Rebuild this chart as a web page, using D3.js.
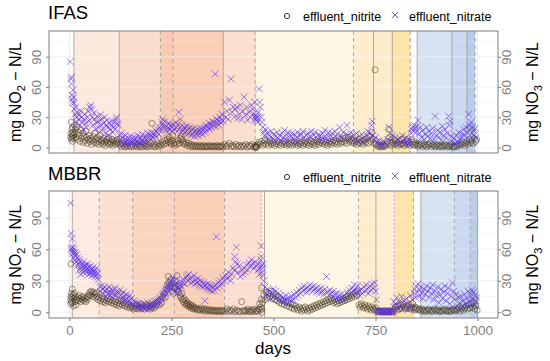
<!DOCTYPE html>
<html><head><meta charset="utf-8">
<script src="https://cdn.jsdelivr.net/npm/d3@7"></script>
<style>body{margin:0;background:#fff} text{font-family:Arial,"Liberation Sans",sans-serif}</style>
</head><body><svg id="chart" width="550" height="361"></svg>
<script>
// ---- data (day, mg/L) ----
var ifasNitrate = [[2,85],[4,68],[5,70],[5,63],[6,52],[7,48],[8,45],[9,57],[10,50],[11,44],[12,38],[14,33],[15,40],[17,30],[18,25],[20,35],[22,28],[24,32],[26,22],[28,36],[30,30],[32,25],[34,18],[36,28],[38,33],[40,24],[42,20],[44,30],[46,36],[48,26],[50,40],[52,42],[54,38],[56,30],[58,22],[60,34],[62,28],[64,18],[66,25],[68,31],[70,20],[72,26],[74,15],[76,32],[78,22],[80,28],[82,18],[84,24],[86,30],[88,14],[90,22],[92,27],[94,20],[96,12],[98,24],[100,18],[102,26],[104,22],[106,15],[108,20],[110,25],[112,18],[114,28],[116,30],[118,24],[120,22],
  [123,12],[125,8],[127,14],[129,6],[131,10],[133,4],[135,8],[137,12],[139,5],[141,7],[143,3],[145,9],[147,6],[149,11],[151,4],[153,8],[155,5],[157,10],[159,7],[161,3],[163,9],[165,6],[167,12],[169,5],[171,8],[173,4],[175,10],[177,7],[179,13],[181,6],[183,9],[185,5],[187,11],[189,8],[191,14],[193,6],[195,10],[197,13],[199,8],[201,15],[203,11],[205,9],[207,14],[209,12],[211,17],[213,10],[215,15],[217,18],[219,13],[221,20],
  [224,18],[226,25],[228,28],[230,22],[232,20],[234,26],[236,17],[238,21],[240,15],[242,19],[244,24],[246,18],[248,22],[250,20],[252,16],
  [255,22],[258,18],[260,25],[262,20],[264,16],[266,23],[268,35],[270,19],[272,28],[274,15],[276,22],[278,17],[280,20],[282,14],[284,19],[286,16],[288,21],[290,13],[292,18],[294,15],[296,20],[298,12],[300,17],[302,14],[304,19],[306,11],[308,16],[310,13],[312,18],[314,15],[316,12],[318,17],[320,14],[322,19],[324,16],[326,13],[328,18],[330,20],[332,15],[334,22],[336,17],[338,21],[340,19],[342,24],[344,18],[346,23],[348,20],[350,26],[352,22],[354,25],[357,73],[358,21],[360,28],[362,24],[364,27],[366,22],[368,30],[370,25],[372,28],[374,33],[376,26],
  [380,45],[383,30],[386,36],[389,28],[392,47],[396,68],[398,35],[401,40],[404,30],[407,38],[410,40],[413,29],[416,33],[419,42],[422,28],[425,36],[428,50],[431,32],[434,40],[437,27],[440,35],[443,30],[446,42],[449,38],[452,33],[454,45],[455,30],[456,28],[457,32],[458,29],[459,27],[460,30],[461,25],[463,35],[465,58],[466,45],[468,40],[470,30],[472,25],[474,20],[476,15],[478,12],[480,18],[482,10],
  [485,14],[488,8],[491,12],[494,16],[497,9],[500,13],[503,7],[506,11],[509,15],[512,9],[515,12],[518,6],[521,14],[524,10],[527,17],[530,8],[533,12],[536,15],[539,7],[542,11],[545,14],[548,9],[551,13],[554,6],[557,10],[560,15],[563,12],[566,8],[569,13],[572,16],[575,10],[578,7],[581,12],[584,14],[587,9],[590,11],[593,16],[596,8],[599,12],[602,15],[605,10],[608,7],[611,13],[614,11],[617,8],[620,14],[623,10],[626,17],[629,9],[632,12],[635,15],[638,7],[641,11],[644,14],[647,9],[650,16],[653,11],[656,13],[659,8],[662,20],[665,12],[668,10],[671,15],[674,8],[677,13],[680,22],[683,12],[686,9],[689,15],[692,11],[695,7],[698,12],
  [701,9],[704,14],[707,6],[710,11],[713,8],[716,13],[719,5],[722,10],[725,7],[728,12],[731,16],[734,9],[737,14],[740,22],[742,26],[744,12],[747,8],[750,10],[753,5],[756,3],[759,7],[762,4],[765,2],[768,6],[771,3],[774,5],[777,2],[780,8],[783,20],[786,14],[789,9],[792,12],[795,5],[798,10],[801,4],[804,7],[807,3],[810,9],[813,5],[816,12],[819,8],[822,4],[825,10],[828,6],[831,3],[834,8],
  [837,14],[839,18],[841,20],[843,16],[845,22],[847,19],[849,15],[851,21],[854,27],[857,14],[860,20],[863,10],[866,17],[869,8],[872,13],[875,20],[878,11],[881,16],[884,9],[887,14],[890,19],[893,8],[896,31],[899,12],[902,17],[905,10],[908,15],[911,7],[914,21],[917,12],[920,18],[923,9],[926,14],[929,31],[931,22],[933,26],[936,11],[939,5],[942,9],[945,4],[948,12],[951,6],[954,15],[957,8],[960,10],[963,13],[966,18],[969,12],[972,20],[975,15],[978,33],[980,22],[982,18],[984,25],[986,14],[988,20],[990,17],[992,12],[994,19],[996,10]];

var ifasNitrite = [[3,10],[4,14],[5,25],[5,8],[6,12],[6,18],[7,10],[8,20],[8,6],[9,15],[10,12],[11,9],[12,22],[13,14],[14,18],[16,10],[18,20],[20,8],[22,15],[24,12],[26,6],[28,17],[30,9],[32,14],[34,5],[36,11],[38,7],[40,16],[42,10],[44,4],[46,8],[48,12],[50,6],[52,9],[54,3],[56,7],[58,11],[60,5],[62,14],[64,8],[66,4],[68,10],[70,6],[72,3],[74,8],[76,12],[78,5],[80,7],[82,3],[84,9],[86,5],[88,2],[90,6],[92,8],[94,4],[96,10],[98,3],[100,6],[102,4],[104,8],[106,2],[108,5],[110,7],[112,3],[114,6],[116,4],[118,8],[120,5],
  [124,3],[127,1],[130,4],[133,2],[136,0.5],[139,3],[142,1],[145,5],[148,2],[151,0.5],[154,3],[157,1],[160,4],[163,2],[166,0.5],[169,3],[172,1],[175,2],[178,0.5],[181,4],[184,2],[187,1],[190,3],[193,0.5],[196,2],[199,4],[202,24],[204,1],[207,3],[210,0.5],[213,2],[216,4],[219,1],[222,3],
  [225,2],[228,5],[231,3],[234,7],[237,4],[240,8],[243,6],[245,10],[247,5],[249,3],[251,7],[253,12],[255,4],[257,2],[260,5],[263,3],[266,7],[269,4],[272,9],[274,11],[276,8],[278,6],[280,4],[283,3],[286,5],[289,2],[292,4],[295,1],[298,3],[301,1],[304,2],[307,0.5],[310,2],[313,1],[316,0.5],[319,2],[322,1],[325,0.5],[328,2],[331,1],[334,0.5],[337,1.5],[340,0.5],[343,2],[346,1],[349,0.5],[352,1.5],[355,1],[358,0.5],[361,2],[364,1],[367,0.5],[370,1],[373,2],[376,0.5],
  [380,3],[384,1],[388,2],[392,4],[396,1],[400,2],[404,0.5],[408,3],[412,1],[416,2],[420,0.5],[424,2],[428,1],[432,3],[436,0.5],[440,2],[444,1],[448,3],[452,0.5],[455,2],[456,0],[457,1],[458,0],[459,1],[461,3],
  [464,5],[467,3],[470,6],[473,2],[476,4],[479,7],[482,3],[485,5],[488,2],[491,6],[494,4],[497,3],[500,5],[503,2],[506,4],[509,6],[512,3],[515,5],[518,2],[521,4],[524,6],[527,3],[530,5],[533,2],[536,4],[539,3],[542,5],[545,2],[548,4],[551,6],[554,3],[557,5],[560,2],[563,4],[566,3],[569,5],[572,2],[575,4],[578,6],[581,3],[584,5],[587,2],[590,4],[593,6],[596,3],[599,5],[602,2],[605,4],[608,6],[611,3],[614,5],[617,7],[620,4],[623,6],[626,3],[629,5],[632,2],[635,4],[638,6],[641,3],[644,5],[647,7],[650,4],[653,6],[656,3],[659,5],[662,8],[665,4],[668,6],[671,9],[674,5],[677,7],[680,4],[683,10],[686,6],[689,8],[692,5],[695,7],[698,4],
  [702,6],[705,3],[708,5],[711,8],[714,4],[717,6],[720,3],[723,7],[726,5],[729,9],[732,4],[735,11],[738,6],[741,15],[744,8],[747,4],[749,77],[752,3],[755,1],[758,2],[761,0.5],[764,1.5],[767,0.5],[770,2],[773,1],[776,3],[779,6],[782,18],[784,10],[787,4],[790,2],[793,5],[796,3],[799,7],[802,4],[805,2],[808,6],[811,3],[814,8],[817,4],[820,2],[823,5],[826,3],[829,6],[832,4],[835,2],
  [838,8],[840,5],[842,3],[844,6],[846,2],[848,4],[851,3],[854,1],[857,3],[860,2],[863,4],[866,1],[869,3],[872,2],[875,0.5],[878,3],[881,2],[884,4],[887,1],[890,3],[893,2],[896,0.5],[899,2],[902,3],[905,1],[908,2],[911,0.5],[914,2],[917,1],[920,3],[923,2],[926,0.5],[929,2],[932,1],[935,3],[938,0.5],[941,1],[944,0.5],[947,2],[950,1],[953,3],[956,2],[959,4],[962,3],[965,5],[968,2],[971,4],[974,6],[977,3],[980,8],[983,5],[986,7],[989,4],[992,9],[995,6],[998,8]];

var mbbrNitrate = [[3,104],[4,75],[5,60],[5,61],[6,58],[7,70],[8,62],[9,56],[10,57],[11,52],[12,60],[13,54],[14,50],[15,57],[16,48],[18,55],[19,44],[20,52],[22,46],[23,50],[24,40],[26,48],[27,43],[28,36],[30,46],[31,40],[32,44],[34,38],[35,48],[36,42],[38,45],[39,40],[40,44],[42,38],[43,42],[44,46],[46,40],[47,36],[48,43],[50,39],[51,44],[52,37],[54,41],[55,35],[56,40],[58,38],[59,43],[60,36],[62,40],[63,34],[64,38],[66,36],[67,42],[68,33],[70,37],[71,31],
  [74,24],[76,20],[78,25],[80,18],[82,22],[84,17],[86,24],[88,20],[90,15],[92,22],[94,18],[96,24],[98,19],[100,16],[102,22],[104,18],[106,14],[108,21],[110,17],[112,23],[114,16],[116,20],[118,13],[120,18],[122,15],[124,21],[126,12],[128,17],[130,14],[132,19],[134,11],[136,15],[138,12],[140,17],[142,10],[144,14],[146,11],[148,16],[150,9],[152,13],
  [155,8],[158,11],[160,6],[162,9],[165,5],[168,8],[170,4],[172,7],[175,3],[178,6],[180,4],[182,8],[185,3],[188,6],[190,5],[192,9],[195,4],[198,7],[200,5],[202,9],[205,6],[208,10],[210,7],[212,11],[215,8],[218,12],[220,10],[222,14],[225,12],[228,16],[230,18],[232,15],[234,20],[236,22],[238,18],[240,25],[242,21],[244,27],[246,24],[248,30],[250,22],[252,28],[254,33],[256,25],[258,30],[260,20],[262,27],[264,18],[266,24],[268,22],[270,29],[272,26],
  [275,24],[278,28],[280,31],[283,27],[286,33],[288,35],[290,30],[292,36],[295,32],[298,28],[300,33],[303,29],[305,35],[308,27],[310,31],[313,28],[315,32],[318,26],[320,30],[323,25],[325,29],[328,24],[330,28],[332,11],[333,26],[336,23],[338,27],[340,22],[343,26],[345,21],[348,25],[350,20],[353,24],[355,21],[358,26],[360,72],[362,23],[365,28],[368,25],[370,30],[373,27],[376,33],[379,30],
  [383,35],[386,32],[389,38],[392,34],[395,30],[398,36],[401,42],[404,40],[405,53],[407,48],[409,62],[411,46],[413,38],[416,44],[419,34],[422,40],[425,36],[428,42],[431,38],[434,45],[437,40],[440,47],[443,44],[446,50],[449,46],[452,42],[455,48],[458,44],[461,40],[463,46],[465,36],[467,42],[469,50],[470,63],[470,53],[471,45],[472,38],[473,42],[474,35],[475,46],[476,30],
  [479,24],[482,18],[485,22],[488,15],[491,20],[494,13],[497,18],[500,22],[503,16],[506,20],[509,14],[512,18],[515,12],[518,16],[521,10],[524,14],[527,11],[530,16],[533,13],[536,9],[539,14],[542,11],[545,15],[548,12],[551,17],[554,14],[557,19],[560,16],[563,21],[566,18],[569,23],[572,20],[575,25],[578,22],[581,19],[584,24],[587,21],[590,26],[593,23],[596,20],[599,25],[602,22],[605,19],[608,24],[611,21],[614,18],[617,23],[620,20],[623,17],[626,22],[630,34],[632,19],[635,16],[638,21],[641,18],[644,15],[647,20],[650,17],[653,13],[656,18],[659,15],[662,12],[665,17],[668,14],[671,11],[674,16],[677,13],[680,19],[683,16],[686,21],[689,18],[692,23],[695,20],[698,26],[701,22],[704,19],[706,25],
  [709,20],[712,16],[715,22],[718,18],[721,24],[724,20],[727,26],[730,22],[733,18],[736,25],[739,21],[742,27],[745,23],[748,28],[750,20],[752,12],[755,1],[757,0],[759,1],[761,0],[763,1],[765,0],[767,1],[769,0],[771,1],[773,0],[775,1],[777,0],[779,1],[781,0],[783,1],[785,0],[787,1],[789,0],[791,1],[793,0],[795,10],[796,5],[799,8],[802,14],[805,3],[808,10],[811,6],[814,15],[817,4],[820,11],[823,7],[826,13],[829,3],[832,9],[835,16],[838,5],[841,12],
  [844,18],[846,22],[848,14],[850,25],[852,19],[854,27],[856,15],[858,21],[860,24],[863,18],[866,13],[869,22],[872,17],[875,25],[878,20],[881,14],[884,23],[887,18],[890,26],[893,12],[896,20],[899,16],[902,24],[905,9],[908,17],[911,22],[914,13],[917,19],[920,25],[923,11],[926,18],[929,23],[932,8],[935,15],[938,28],[941,20],[944,12],[947,17],[950,6],[953,14],[956,9],[959,15],[962,5],[965,11],[968,17],[971,8],[974,13],[977,20],[980,10],[982,18],[984,15],[986,21],[988,12],[990,19],[992,8],[994,16],[996,11],[998,14]];

var mbbrNitrite = [[3,12],[3,8],[4,46],[4,15],[5,10],[5,18],[6,14],[7,22],[8,9],[9,16],[10,6],[11,13],[12,18],[14,10],[15,15],[16,7],[18,12],[20,14],[22,11],[24,16],[26,13],[28,10],[30,14],[32,12],[34,15],[36,11],[38,13],[40,10],[42,14],[44,12],[46,15],[48,17],[50,19],[52,16],[54,20],[56,18],[58,15],[60,19],[62,17],[64,14],[66,18],[68,15],[70,12],
  [73,14],[76,11],[79,13],[82,10],[85,12],[88,9],[91,11],[94,13],[97,10],[100,12],[103,9],[106,11],[109,8],[112,10],[115,7],[118,9],[121,6],[124,8],[127,11],[130,7],[133,9],[136,6],[139,8],[142,5],[145,7],[148,4],[151,6],
  [154,5],[157,3],[160,6],[163,4],[166,7],[169,3],[172,5],[175,8],[178,4],[181,6],[184,3],[187,5],[190,7],[193,4],[196,6],[199,3],[202,5],[205,7],[208,4],[211,6],[214,8],[217,10],[220,7],[223,12],[226,9],[229,15],[232,18],[235,14],[238,22],[240,26],[242,34],[244,28],[246,24],[248,31],[250,20],[252,27],[254,18],[256,23],[258,30],[260,25],[263,35],[265,22],[267,19],[269,25],[271,16],[273,14],[275,18],[277,12],[279,10],[281,13],[283,8],[285,11],[287,7],[289,9],[291,6],[293,8],[295,5],[297,7],[299,4],[301,6],[303,3],[305,5],[308,3],[311,4],[314,2],[317,3],[320,2],[323,4],[326,2],[329,3],[332,1],[335,3],[338,2],[341,1],[344,2.5],[347,1],[350,2],[353,1],[356,2],[359,0.5],[362,2],[365,1],[368,1.5],[371,0.5],[374,2],[377,1],
  [382,1],[386,3],[390,0.5],[394,2],[398,1],[402,3],[406,0.5],[410,2],[414,1],[418,0.5],[422,10],[425,1],[428,2],[431,0.5],[434,1.5],[437,3],[440,1],[443,0.5],[446,2],[449,1],[452,3],[455,0.5],[458,2],[461,1],[464,3],[466,8],[468,2],[469,5],[470,12],[471,23],[471,0],[472,3],[473,9],
  [476,16],[479,12],[482,19],[485,14],[488,18],[491,15],[494,20],[497,13],[500,17],[503,12],[506,15],[509,11],[512,14],[515,9],[518,12],[521,8],[524,11],[527,7],[530,10],[533,6],[536,9],[539,5],[542,8],[545,4],[548,7],[551,3],[554,6],[557,4],[560,2],[563,5],[566,3],[569,1],[572,4],[575,2],[578,5],[581,3],[584,1],[587,4],[590,2],[593,5],[596,3],[599,6],[602,4],[605,7],[608,5],[611,8],[614,6],[617,9],[620,7],[623,10],[626,8],[629,11],[632,9],[635,12],[638,10],[641,13],[644,11],[647,9],[650,12],[653,10],[656,8],[659,11],[662,9],[665,12],[668,10],[671,13],[674,11],[677,14],[680,12],[683,15],[686,13],[689,16],[692,14],[695,17],[698,15],[701,18],[704,16],[706,20],
  [709,7],[712,5],[715,8],[718,6],[721,4],[724,7],[727,5],[730,3],[733,6],[736,4],[739,2],[742,5],[745,3],[748,2],[751,4],[754,1],[757,0.5],[760,1.5],[763,0.5],[766,1],[769,0.5],[772,1.5],[775,0.5],[778,1],[781,0.5],[784,1.5],[787,0.5],[790,1],[793,0.5],[796,3],[799,5],[802,2],[805,6],[808,3],[811,7],[814,4],[817,8],[820,5],[823,3],[826,6],[829,4],[832,7],[835,3],[838,5],[841,8],[843,4],[845,2],[847,5],[849,3],
  [852,4],[855,2],[858,3],[861,1],[864,3],[867,2],[870,0.5],[873,2],[876,1],[879,3],[882,2],[885,0.5],[888,2],[891,1],[894,3],[897,2],[900,1],[903,2.5],[906,1],[909,0.5],[912,2],[915,1],[918,3],[921,2],[924,1],[927,2],[930,0.5],[933,2],[936,1],[939,3],[942,2],[945,1],[948,3],[951,2],[954,4],[957,1],[960,3],[963,5],[966,2],[969,4],[972,6],[975,3],[978,7],[981,4],[984,8],[987,5],[990,9],[993,3],[996,6],[999,2]];

// operating phases (start day, end day)
var ifasPhases = [[11,122],[122,223],[223,254],[254,377],[377,457],[457,696],[696,745],[745,791],[791,835],[852,937],[937,974],[974,994]];
var mbbrPhases = [[7,73],[73,155],[155,257],[257,380],[380,471],[471,708],[708,751],[751,798],[798,843],[861,943],[943,982],[982,1000]];
var ifasPhaseFill = ["#fde8dc","#fad9c8","#f7c8ae","#f8cbb1","#fbdccb","#fef5e3","#fdecca","#fdeac5","#fde2a3","#d4e0f1","#c6d6ee","#b3c8e7"];
var mbbrPhaseFill = ["#fde9de","#fbdccc","#f9d0ba","#f8cbb2","#fcdccd","#fef5e3","#fdebc8","#fdedce","#fde2a3","#d4e0f1","#c6d6ee","#b3c8e7"];

// phase boundary markers (day) and their line type
var ifasMarks = [11,122,223,254,377,455,696,745,791,835,852,937,974,994];
var ifasMarkType = ["solid","solid","dashed","dashed","solid","dashed","dashed","solid","solid","dashed","solid","solid","solid","dashed"];
var mbbrMarks = [7,73,155,257,380,470,478,708,751,796,843,861,943,982,1000];
var mbbrMarkType = ["solid","dashed","dashed","dashed","dashed","dotted","solid","dashed","solid","dotted","dashed","solid","dashed","dashed","solid"];

var xTicks = [0,250,500,750,1000];
var yTicks = [0,30,60,90];
var seriesNames = ["effluent_nitrite","effluent_nitrate"];

// ---- drawing ----
var svg = d3.select("#chart");
var x = d3.scaleLinear().domain([-50,1050]).range([49,498]);

var panels = [
  {name:"IFAS", top:31, bottom:153, nitrite:ifasNitrite, nitrate:ifasNitrate, phases:ifasPhases, fills:ifasPhaseFill, marks:ifasMarks, types:ifasMarkType, titleY:19, legendY:16, showX:false},
  {name:"MBBR", top:191, bottom:318, nitrite:mbbrNitrite, nitrate:mbbrNitrate, phases:mbbrPhases, fills:mbbrPhaseFill, marks:mbbrMarks, types:mbbrMarkType, titleY:180, legendY:177, showX:true}
];

var nitriteCol = "#3d3018", nitrateCol = "#5a2ee6";
var font = "Arial, 'Liberation Sans', sans-serif";

panels.forEach(function(p, pi){
  var y = d3.scaleLinear().domain([-5.5,115.5]).range([p.bottom, p.top]);
  var g = svg.append("g");
  var clipId = "clip" + pi;
  svg.append("clipPath").attr("id", clipId).append("rect")
    .attr("x", 49).attr("y", p.top).attr("width", 449).attr("height", p.bottom - p.top);

  g.append("rect").attr("x",49).attr("y",p.top).attr("width",449).attr("height",p.bottom-p.top).attr("fill","#fff");

  // grid
  var gridY = d3.range(0,106,15), gridX = d3.range(0,1001,125);
  g.selectAll(".gy").data(gridY).enter().append("line")
    .attr("x1",49).attr("x2",498).attr("y1",function(d){return y(d);}).attr("y2",function(d){return y(d);})
    .attr("stroke","#ebebeb").attr("stroke-width", function(d){ return d%30==0 ? 1 : 0.5; });
  g.selectAll(".gx").data(gridX).enter().append("line")
    .attr("y1",p.top).attr("y2",p.bottom).attr("x1",function(d){return x(d);}).attr("x2",function(d){return x(d);})
    .attr("stroke","#ebebeb").attr("stroke-width", function(d){ return d%250==0 ? 1 : 0.5; });

  // shaded phases
  g.append("g").selectAll("rect").data(p.phases).enter().append("rect")
    .attr("x", function(d){ return x(d[0]); })
    .attr("width", function(d){ return x(d[1]) - x(d[0]); })
    .attr("y", p.top).attr("height", p.bottom - p.top)
    .attr("fill", function(d,i){ return p.fills[i]; })
    .attr("opacity", 0.92);

  // faint grid over shading
  g.selectAll(".gy2").data(gridY).enter().append("line")
    .attr("x1",49).attr("x2",498).attr("y1",function(d){return y(d);}).attr("y2",function(d){return y(d);})
    .attr("stroke","#fff").attr("stroke-opacity",0.45).attr("stroke-width", function(d){ return d%30==0 ? 1 : 0.5; });

  // phase boundary lines
  g.append("g").selectAll("line").data(p.marks).enter().append("line")
    .attr("x1", function(d){ return x(d); }).attr("x2", function(d){ return x(d); })
    .attr("y1", p.top).attr("y2", p.bottom)
    .attr("stroke", function(d,i){ return p.types[i]=="dotted" ? "#d68ad6" : "#a89f99"; })
    .attr("stroke-width", 0.9)
    .attr("stroke-dasharray", function(d,i){ return p.types[i]=="dashed" ? "4,3" : (p.types[i]=="dotted" ? "2,2" : null); });

  var pts = g.append("g").attr("clip-path","url(#"+clipId+")");
  // nitrite: open circles
  pts.selectAll("circle").data(p.nitrite).enter().append("circle")
    .attr("cx", function(d){ return x(d[0]); })
    .attr("cy", function(d){ return y(d[1]); })
    .attr("r", 3)
    .attr("fill","none").attr("stroke", nitriteCol).attr("stroke-opacity",0.55).attr("stroke-width",0.9);
  // nitrate: crosses
  pts.selectAll("path").data(p.nitrate).enter().append("path")
    .attr("transform", function(d){ return "translate(" + x(d[0]) + "," + y(d[1]) + ")"; })
    .attr("d", "M-3.4,-3.4L3.4,3.4M-3.4,3.4L3.4,-3.4")
    .attr("stroke", nitrateCol).attr("stroke-opacity",0.6).attr("stroke-width",1);

  // border
  g.append("rect").attr("x",49).attr("y",p.top).attr("width",449).attr("height",p.bottom-p.top)
    .attr("fill","none").attr("stroke","#7f7f7f").attr("stroke-width",1);

  // y axes
  var left = g.append("g").attr("transform","translate(49,0)")
    .call(d3.axisLeft(y).tickValues(yTicks).tickSize(3).tickPadding(3));
  var right = g.append("g").attr("transform","translate(498,0)")
    .call(d3.axisRight(y).tickValues(yTicks).tickSize(3).tickPadding(3));
  [left, right].forEach(function(a){
    a.select(".domain").remove();
    a.selectAll(".tick line").attr("stroke","#7f7f7f");
    a.selectAll(".tick text").attr("fill","#7f7f7f").attr("font-size",13.5).attr("font-family",font);
  });
  left.selectAll(".tick text").attr("text-anchor","middle").attr("x",0).attr("dy",null)
    .attr("transform","translate(-8,0) rotate(-90)");
  right.selectAll(".tick text").attr("text-anchor","middle").attr("x",0).attr("dy",null)
    .attr("transform","translate(13,0) rotate(-90)");

  // axis titles
  var cy = (p.top + p.bottom) / 2;
  var lt = g.append("text").attr("transform","translate(21," + cy + ") rotate(-90)")
    .attr("text-anchor","middle").attr("font-size",16).attr("fill","#000");
  lt.append("tspan").text("mg NO");
  lt.append("tspan").attr("font-size",11).attr("dy",4).text("2");
  lt.append("tspan").attr("dy",-4).text(" \u2212 N/L");
  var rt = g.append("text").attr("transform","translate(538," + cy + ") rotate(-90)")
    .attr("text-anchor","middle").attr("font-size",16).attr("fill","#000");
  rt.append("tspan").text("mg NO");
  rt.append("tspan").attr("font-size",11).attr("dy",4).text("3");
  rt.append("tspan").attr("dy",-4).text(" \u2212 N/L");

  // panel title
  g.append("text").attr("x",48).attr("y",p.titleY).attr("font-size",18.5).attr("fill","#000").text(p.name);

  // legend
  var lg = g.append("g").attr("transform","translate(0," + p.legendY + ")");
  lg.append("circle").attr("cx",287).attr("cy",0).attr("r",2.6)
    .attr("fill","none").attr("stroke","#333").attr("stroke-width",1);
  lg.append("text").attr("x",303).attr("y",4.5).attr("font-size",12.5).text(seriesNames[0]);
  lg.append("path").attr("transform","translate(395,-1)").attr("d","M-3.2,-3.2L3.2,3.2M-3.2,3.2L3.2,-3.2")
    .attr("stroke","#6a55e8").attr("stroke-width",1);
  lg.append("text").attr("x",409).attr("y",4.5).attr("font-size",12.5).text(seriesNames[1]);

  if (p.showX) {
    var xa = g.append("g").attr("transform","translate(0," + p.bottom + ")")
      .call(d3.axisBottom(x).tickValues(xTicks).tickSize(3).tickPadding(4).tickFormat(d3.format("d")));
    xa.select(".domain").remove();
    xa.selectAll(".tick line").attr("stroke","#7f7f7f");
    xa.selectAll(".tick text").attr("fill","#7f7f7f").attr("font-size",13.5).attr("font-family",font);
    g.append("text").attr("x", 273).attr("y", 354).attr("text-anchor","middle")
      .attr("font-size",17).attr("fill","#000").text("days");
  }
});
</script>
</body></html>
